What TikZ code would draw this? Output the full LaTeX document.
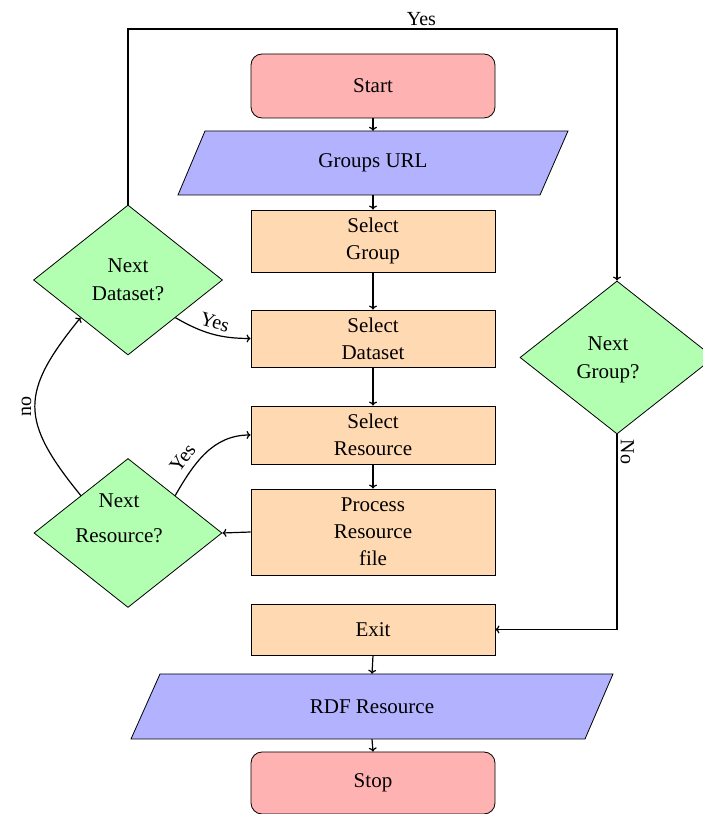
\documentclass[tikz,border=0pt]{standalone}
\usepackage{fontspec}
\setmainfont{Liberation Serif}
\usetikzlibrary{shapes.geometric,arrows.meta,calc}
\begin{document}
\begin{tikzpicture}[x=1pt,y=1pt,
  box/.style={draw, line width=0.8pt, fill=orange!30, minimum width=244pt, align=center,
    font=\fontsize{21}{27}\selectfont, inner sep=0pt},
  term/.style={box, fill=red!30, rounded corners=11pt},
  dec/.style={draw, diamond, fill=green!30, line width=0.8pt, inner sep=0pt, align=center,
    font=\fontsize{21}{28}\selectfont},
  io/.style={draw, fill=blue!30, line width=0.8pt},
  txt/.style={align=center, font=\fontsize{21}{28}\selectfont, inner sep=0pt},
  conn/.style={line width=1.2pt, -{To[length=4pt,width=8pt]}},
  lbl/.style={font=\fontsize{20}{20}\selectfont, inner sep=3pt}
]
\useasboundingbox (0,0) rectangle (703,814);
\clip (0,0) rectangle (703,814);

% terminals and process boxes
\node[term, minimum height=64pt] (start) at (373,728) {\raisebox{-4pt}{Start}};
\node[box, minimum height=62pt] (sg) at (373,573) {Select\\Group};
\node[box, minimum height=57pt] (sd) at (373,475.5) {Select\\Dataset};
\node[box, minimum height=58pt] (sr) at (373,379) {Select\\Resource};
\node[box, minimum height=86pt] (pr) at (373,282) {Process\\Resource\\file};
\node[box, minimum height=51pt] (ex) at (373,184.5) {\raisebox{-4pt}{Exit}};
\node[term, minimum height=62pt] (stop) at (373,31) {\raisebox{-4pt}{Stop}};

% input/output parallelograms
\draw[io] (178,619) -- (540,619) -- (568,683) -- (205,683) -- cycle;
\node[txt, minimum height=64pt] (g) at (373,651) {\raisebox{-4pt}{Groups URL}};
\draw[io] (131,75) -- (585,75) -- (613,140) -- (160,140) -- cycle;
\node[txt, minimum height=65pt] (r) at (372,107.5) {\raisebox{-4pt}{RDF Resource}};

% decisions
\node[dec, minimum width=189pt, minimum height=150pt] (nd) at (128,534) {Next\\Dataset?};
\node[dec, minimum width=188pt, minimum height=149pt] (nr) at (128,281) {};
\node[txt] (nrt) at (119,296) {Next\\[7pt]Resource?};
\node[dec, minimum width=194pt, minimum height=153pt] (ng) at (617,456.5) {};
\node[txt] (ngt) at (608,454) {Next\\Group?};

% main flow
\draw[conn] (start.south) -- (g.north);
\draw[conn] (g.south) -- (sg.north);
\draw[conn] (sg.south) -- (sd.north);
\draw[conn] (sd.south) -- (sr.north);
\draw[conn] (sr.south) -- (pr.north);
\draw[conn] (pr.west) -- (nr.east);
\draw[conn] (ex.south) -- (r.north);
\draw[conn] (r.south) -- (stop.north);

% loops
\coordinate (tl) at (128,785);
\coordinate (tr) at (617,785);
\coordinate (br) at (617,184.5);
\draw[conn] (nd.north) -- (tl) -- node[lbl, above, pos=0.6] {Yes} (tr) -- (ng.north);
\draw[conn] (ng.south) -- node[lbl, rotate=-90, anchor=south, pos=0.09] {No} (br) -- (ex.east);
\draw[conn] (nd.south east) to[out=-30,in=180] node[lbl, sloped, above=2pt, pos=0.5] {Yes} (sd.west);
\draw[conn] (nr.north east) to[out=60,in=180] node[lbl, sloped, above=4pt, pos=0.32] {Yes} (sr.west);
\draw[conn] (nr.north west) .. controls +(-61,75) and +(-61,-75) .. node[lbl, rotate=90, anchor=south, midway] {no} (nd.south west);
\end{tikzpicture}
\end{document}
